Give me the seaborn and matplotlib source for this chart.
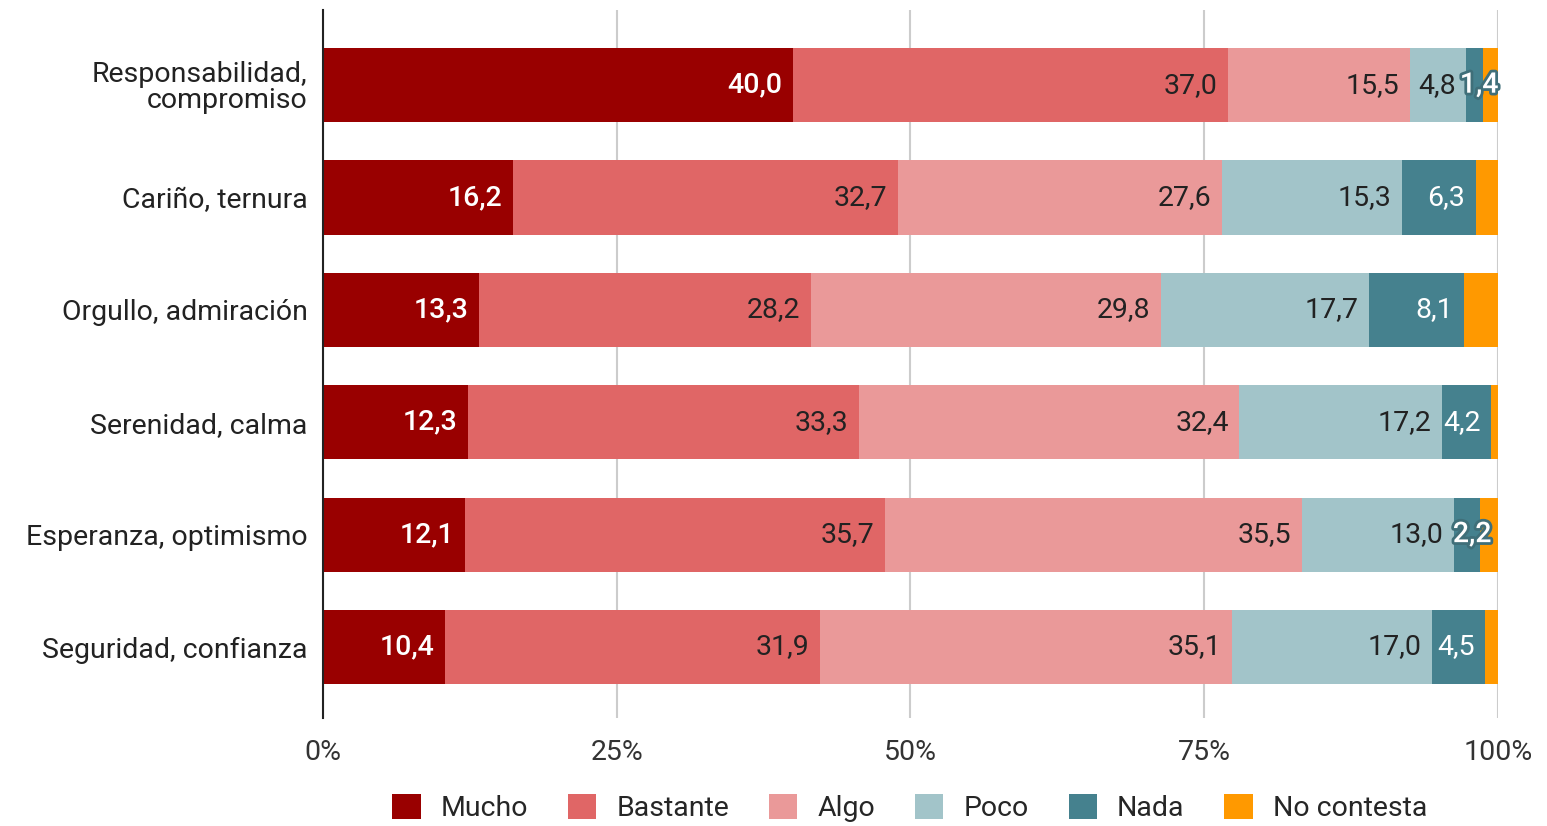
import matplotlib
matplotlib.use("Agg")
import matplotlib.pyplot as plt
import matplotlib.patheffects as pe
from matplotlib.patches import Patch
import numpy as np
import pandas as pd
import seaborn as sns

categories = [
    "Responsabilidad,\ncompromiso",
    "Cariño, ternura",
    "Orgullo, admiración",
    "Serenidad, calma",
    "Esperanza, optimismo",
    "Seguridad, confianza",
]
series = ["Mucho", "Bastante", "Algo", "Poco", "Nada", "No contesta"]
mucho = [40.0, 16.2, 13.3, 12.3, 12.1, 10.4]
bastante = [37.0, 32.7, 28.2, 33.3, 35.7, 31.9]
algo = [15.5, 27.6, 29.8, 32.4, 35.5, 35.1]
poco = [4.8, 15.3, 17.7, 17.2, 13.0, 17.0]
nada = [1.4, 6.3, 8.1, 4.2, 2.2, 4.5]
no_contesta = [1.3, 1.9, 2.9, 0.6, 1.5, 1.1]
tick_values = [0, 25, 50, 75, 100]
tick_labels = ["0%", "25%", "50%", "75%", "100%"]

colors = ["#990000", "#E06666", "#EA9999", "#A2C4C9", "#45818E", "#FF9900"]
label_colors = ["white", "#222222", "#222222", "#222222", "white", None]
label_weights = ["medium", "normal", "normal", "normal", "normal", None]

sns.set_theme(style="white")
plt.rcParams["font.family"] = ["Roboto", "DejaVu Sans"]

values = np.array([mucho, bastante, algo, poco, nada, no_contesta])
cum = values.cumsum(axis=0)

df = pd.DataFrame({"Categoría": categories})
for i, s in enumerate(series):
    df[s] = cum[i]

fig = plt.figure(figsize=(15.47, 8.26), dpi=100)
ax = fig.add_axes([0.2088, 0.131, 0.7595, 0.857])

# stacked bars: draw cumulative totals from the widest layer down
for i in reversed(range(len(series))):
    sns.barplot(data=df, y="Categoría", x=series[i], color=colors[i],
                orient="h", width=0.66, ax=ax, saturation=1, zorder=3,
                linewidth=0, edgecolor="none")

FS = 20.5
ax.set_xlim(0, 100)
ax.set_ylim(5.63, -0.67)
ax.set_xlabel("")
ax.set_ylabel("")
ax.set_xticks(tick_values)
ax.set_xticklabels(tick_labels, fontsize=FS, color="#333333")
ax.tick_params(axis="y", labelsize=FS, colors="#222222", pad=11, length=0)
ax.tick_params(axis="x", pad=15, length=0)
for lbl in ax.get_yticklabels():
    lbl.set_multialignment("right")
    lbl.set_linespacing(0.95)

ax.grid(axis="x", color="#cccccc", linewidth=1.5, zorder=0)
ax.grid(axis="y", visible=False)
for side in ["top", "right", "bottom"]:
    ax.spines[side].set_visible(False)
ax.spines["left"].set_color("#222222")
ax.spines["left"].set_linewidth(1.5)
ax.spines["left"].set_zorder(5)

# value labels
pad = 0.9
for i in range(len(series) - 1):
    for j in range(len(categories)):
        v = values[i, j]
        end = cum[i, j]
        txt = f"{v:.1f}".replace(".", ",")
        if v >= 3:
            ax.text(end - pad, j, txt, ha="right", va="center",
                    fontsize=FS, color=label_colors[i], zorder=6,
                    fontweight=label_weights[i])
        else:
            ax.text(end - v / 2 + 0.4, j, txt, ha="center", va="center",
                    fontsize=FS, color="white", zorder=6, fontweight="medium",
                    path_effects=[pe.withStroke(linewidth=4, foreground="#3f6f79")])

handles = [Patch(facecolor=c, edgecolor="none") for c in colors]
fig.legend(handles, series, loc="center", bbox_to_anchor=(0.588, 0.022),
           ncol=6, frameon=False, fontsize=FS, handlelength=1.0,
           handleheight=1.0, handletextpad=0.7, columnspacing=1.4)

fig.savefig("out.png", dpi=100)
